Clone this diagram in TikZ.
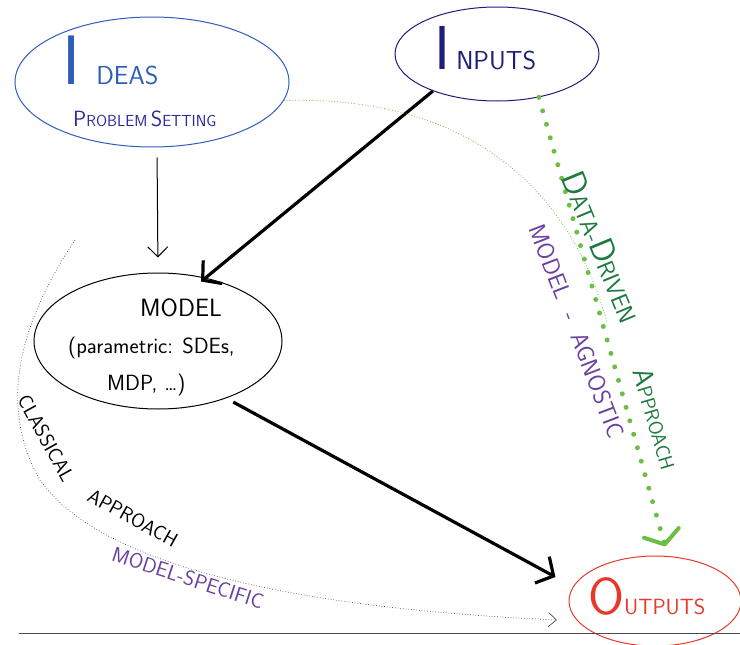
\documentclass[tikz,border=0pt]{standalone}
\usetikzlibrary{arrows.meta,shapes.geometric}
\definecolor{ideasblue}{HTML}{2E5CB8}
\definecolor{probnavy}{HTML}{2B2B9C}
\definecolor{inputnavy}{HTML}{1E1E7A}
\definecolor{outred}{HTML}{E8372B}
\definecolor{dgreen}{HTML}{6DBE45}
\definecolor{tgreen}{HTML}{1D7A3E}
\definecolor{purp}{HTML}{6B3FA0}
\newcommand\fs[1]{\fontsize{#1}{#1}\selectfont}
\begin{document}
\begin{tikzpicture}[x=1pt,y=-1pt,
  oval/.style={ellipse,draw,inner sep=0pt,line width=1pt},
  hand/.style={font=\sffamily,inner sep=0pt},
  thinarrow/.style={line width=1pt,-{Straight Barb[length=10pt,width=20pt,line width=1pt]}},
  thickarrow/.style={line width=3.2pt,-{Straight Barb[length=13pt,width=30pt,line width=3.2pt]}},
]
\useasboundingbox (0,0) rectangle (740,645);

% ellipses
\node[oval,draw=ideasblue,minimum width=274pt,minimum height=130pt] (ideas) at (152,82) {};
\node[oval,draw=inputnavy,minimum width=204pt,minimum height=94pt] (inputs) at (497,54) {};
\node[oval,draw=black,minimum width=248pt,minimum height=136pt] (model) at (158,341) {};
\node[oval,draw=outred,minimum width=172pt,minimum height=90pt] (outputs) at (655,601) {};

% texts inside
\node[hand,text=ideasblue,anchor=base west] (ideast) at (62,84) {{\fs{70}I}\kern16pt{\fs{26}DEAS}};
\node[hand,text=probnavy,anchor=base west] (probt) at (73,126) {{\fs{22}P}{\fs{16}ROBLEM} {\fs{22}S}{\fs{16}ETTING}};
\node[hand,text=inputnavy,anchor=base west] (inputt) at (434,69) {{\fs{62}I}\kern6pt{\fs{26}NPUTS}};
\node[hand,anchor=base] (modelt) at (181,316) {\fs{25}MODEL};
\node[hand,anchor=base west] (paramt) at (68,353) {\fs{22}(parametric: SDEs,};
\node[hand,anchor=base west] (mdpt) at (107,390) {\fs{22}MDP, \dots)};
\node[hand,text=outred,anchor=base west] (outt) at (588,614) {{\fs{52}O}{\fs{22}UTPUTS}};

% connectors
\draw[thinarrow,shorten <=10pt,shorten >=15pt] ([xshift=5pt]ideas.south) -- (model.north);
\draw[thickarrow,shorten >=-6pt] (inputs.210) -- (model.53);
\draw[thickarrow,shorten <=8pt,shorten >=20pt] (model.-40) -- (outputs.170);
\draw[dgreen,line width=5pt,line cap=round,dash pattern=on 0pt off 14pt,
  -{Straight Barb[length=12pt,width=36pt,line width=4pt,round]},shorten >=10pt]
  (inputs.-46) -- (outputs.74);

% curved guides
\coordinate (gend) at (607,322);
\draw[dgreen,dotted,line width=0.8pt] (ideas.-8) .. controls (470,95) and (570,190) .. (gend);
\coordinate (cstart) at (75,240);
\coordinate (cmid) at (40,480);
\coordinate (cend) at (557,620);
\draw[black!70,dotted,line width=0.7pt,-{Straight Barb[length=8pt,width=14pt,line width=0.7pt]}]
  (cstart) .. controls (15,330) and (0,410) .. (cmid) .. controls (100,565) and (290,608) .. (cend);

% labels
\node[hand,rotate=-61] (classt) at (46,438) {\fs{20}CLASSICAL};
\node[hand,rotate=-29] (apprt) at (133,518) {\fs{20}APPROACH};
\node[hand,text=purp,rotate=-18] (spect) at (188,578) {\fs{21}MODEL-SPECIFIC};
\node[hand,text=tgreen,rotate=-67.5] (datat) at (602,247) {{\fs{34}D}{\fs{24}ATA-}{\fs{34}D}{\fs{24}RIVEN}};
\node[hand,text=tgreen,rotate=-73.6] (appr2t) at (656,419) {{\fs{28}A}{\fs{20}PPROACH}};
\node[hand,text=purp,rotate=-69] (agnt) at (577,331) {\fs{24}MODEL\ \ -\ \ AGNOSTIC};

% baseline
\draw[black!70,line width=1pt] (19,633) -- (740,633);
\end{tikzpicture}
\end{document}
